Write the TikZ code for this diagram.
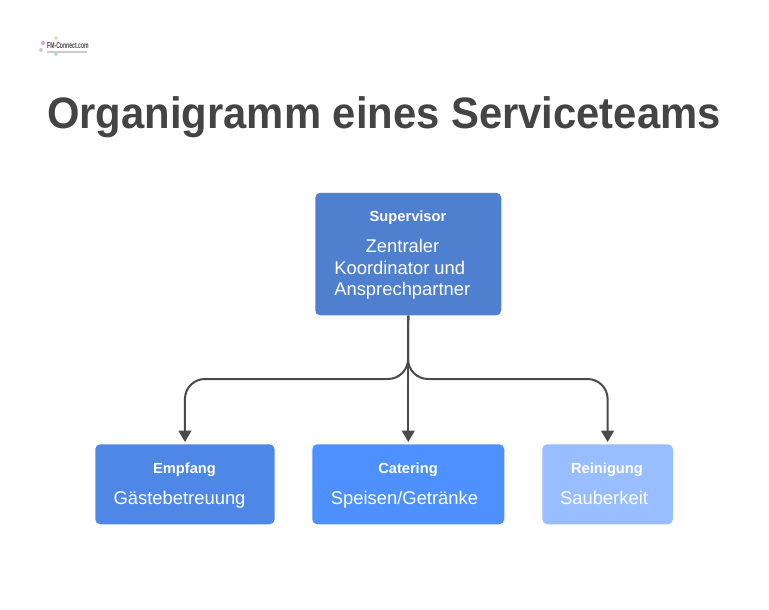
\documentclass[tikz,border=0pt]{standalone}
\usepackage{fontspec}
\setmainfont{Liberation Sans}
\usetikzlibrary{arrows.meta}

\definecolor{titlegray}{HTML}{444444}
\definecolor{linegray}{HTML}{4A4A4A}
\definecolor{supblue}{HTML}{4F7FCF}
\definecolor{empblue}{HTML}{4F87E6}
\definecolor{catblue}{HTML}{4D90FE}
\definecolor{reiblue}{HTML}{98BEFF}

\tikzset{
  box/.style={rounded corners=3.75pt, inner sep=0pt, anchor=north west},
  head/.style={text=white, font=\fontsize{11}{13}\selectfont\bfseries, inner sep=0pt, anchor=base},
  body/.style={text=white, font=\fontsize{13.8}{16}\selectfont, inner sep=0pt, anchor=base},
  link/.style={draw=linegray, line width=1.5pt, rounded corners=15pt,
    -{Triangle[length=8.5pt,width=9.5pt]}, shorten >=1.5pt},
  logodot/.style={circle, inner sep=0pt, minimum size=3pt}
}

\begin{document}
\begin{tikzpicture}[x=0.75pt,y=-0.75pt]
\useasboundingbox (0,0) rectangle (769,610);

% logo
\node[logodot, fill=violet!35] (dota) at (43,43) {};
\node[logodot, fill=orange!30] (dotb) at (56,38) {};
\node[logodot, fill=cyan!35] (dotc) at (56,54) {};
\node[logodot, fill=gray!40] (dotd) at (41,50) {};
\node[anchor=base west, inner sep=0pt, xscale=0.6, text=titlegray, font=\fontsize{6.4}{7}\selectfont\bfseries] (logo) at (47,49) {FM-Connect.com};
\draw[gray!40, line width=0.8pt] (47,52) -- (87,52);

\node[anchor=base, inner sep=0pt, xscale=0.95, text=titlegray, font=\fontsize{33}{38}\selectfont\bfseries] (title) at (384,129) {Organigramm eines Serviceteams};

% boxes
\node[box, fill=supblue, minimum width=139.5pt, minimum height=92pt] (sup) at (315,192.5) {};
\node[box, fill=empblue, minimum width=134.5pt, minimum height=60pt] (emp) at (95,444) {};
\node[box, fill=catblue, minimum width=144pt, minimum height=60pt] (cat) at (312,444) {};
\node[box, fill=reiblue, minimum width=98pt, minimum height=60pt] (rei) at (542,444) {};

% labels
\node[head] (suphead) at (408,221.5) {Supervisor};
\node[body] (supa) at (402.5,252.5) {Zentraler};
\node[body, anchor=base west] (supb) at (334,274) {Koordinator und};
\node[body, anchor=base west] (supc) at (334,295.5) {Ansprechpartner};

\node[head] (emphead) at (184.5,473) {Empfang};
\node[body] (empbody) at (179.5,504) {Gästebetreuung};
\node[head] (cathead) at (408,473) {Catering};
\node[body] (catbody) at (404.5,504) {Speisen/Getränke};
\node[head] (reihead) at (607,473) {Reinigung};
\node[body] (reibody) at (604,504) {Sauberkeit};

% connectors
\coordinate (hub) at (408,379);
\draw[link] (sup.south) -- (hub) -- (emp.north |- hub) -- (emp.north);
\draw[link] (sup.south) -- (hub) -- (rei.north |- hub) -- (rei.north);
\draw[link] (sup.south) -- (cat.north);
\end{tikzpicture}
\end{document}
